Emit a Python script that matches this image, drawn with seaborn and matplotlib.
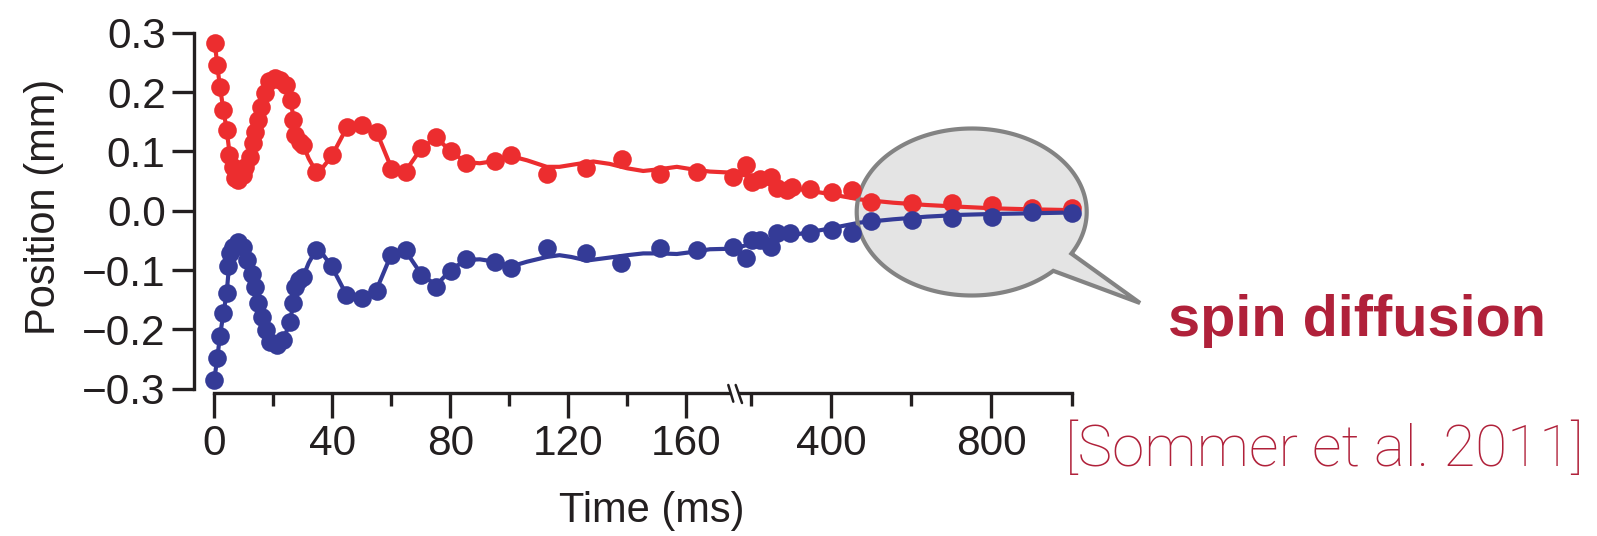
import numpy as np
import matplotlib
matplotlib.use("Agg")
import matplotlib.pyplot as plt
import seaborn as sns
from matplotlib.patches import Polygon
from matplotlib.lines import Line2D

# ---------------- data ----------------
red_t = [0.2, 1.0, 1.9, 3.1, 4.2, 5.1, 6.2, 7.0, 8.1, 9.8,
         10.5, 12.1, 13.0, 13.8, 14.9, 15.8, 17.2, 18.6, 20.6, 22.3,
         24.3, 25.9, 26.6, 27.4, 29.1, 30.2, 34.5, 39.8, 44.9, 50.0,
         55.0, 59.8, 65.0, 70.0, 75.2, 80.1, 85.3, 95.2, 100.6, 112.7,
         126.1, 138.1, 151.1, 163.5, 176, 188, 202, 223, 250, 265,
         290, 302, 349, 402, 452, 499, 601, 701, 801, 901, 1000]
red_v = [0.282, 0.246, 0.209, 0.170, 0.136, 0.094, 0.074, 0.055, 0.052, 0.060,
         0.073, 0.091, 0.114, 0.133, 0.153, 0.175, 0.198, 0.218, 0.223, 0.220,
         0.212, 0.187, 0.153, 0.128, 0.116, 0.111, 0.066, 0.094, 0.142, 0.145,
         0.133, 0.071, 0.066, 0.105, 0.125, 0.100, 0.081, 0.083, 0.094, 0.062,
         0.0715, 0.087, 0.062, 0.066, 0.057, 0.077, 0.049, 0.053, 0.057, 0.038,
         0.035, 0.040, 0.036, 0.032, 0.035, 0.015, 0.0135, 0.0125, 0.0096, 0.004, 0.004]

blue_t = [0, 1.0, 1.9, 3.1, 4.2, 4.7, 5.3, 6.4, 8.1, 9.8,
          11.0, 12.7, 13.8, 14.9, 16.1, 17.5, 18.9, 21.1, 23.4, 25.7,
          26.6, 27.4, 28.8, 30.2, 34.5, 39.8, 44.6, 50.0, 55.0, 59.8,
          65.0, 70.0, 75.2, 80.1, 85.3, 95.2, 100.6, 112.7, 126, 138,
          151, 163.5, 176, 188, 202, 223, 250, 265, 298, 349,
          402, 452, 499, 601, 701, 801, 901, 1000]
blue_v = [-0.285, -0.249, -0.212, -0.173, -0.139, -0.094, -0.072, -0.061, -0.052, -0.061,
          -0.083, -0.106, -0.128, -0.156, -0.179, -0.201, -0.221, -0.226, -0.218, -0.187,
          -0.156, -0.128, -0.117, -0.111, -0.066, -0.094, -0.142, -0.148, -0.135, -0.075,
          -0.067, -0.108, -0.128, -0.101, -0.082, -0.086, -0.097, -0.063, -0.072, -0.088,
          -0.063, -0.067, -0.061, -0.079, -0.049, -0.050, -0.061, -0.038, -0.038, -0.038,
          -0.033, -0.037, -0.017, -0.016, -0.013, -0.010, -0.003, -0.004]

red_fit_t = [0.2, 1.0, 1.9, 3.1, 4.2, 5.1, 6.2, 7.5, 9.0, 10.5, 12.1, 13.8, 15.8, 17.2,
             18.6, 20.6, 22.3, 24.3, 25.9, 27.4, 29.1, 30.2, 32.0, 34.5, 36.0, 39.8,
             44.9, 50.0, 55.0, 59.8, 63.0, 65.0, 70.0, 75.2, 80.1, 85.3, 90.0, 95.2,
             100.6, 106, 112.7, 117, 122, 128.5, 134, 140, 145.4, 151, 156.8, 163, 168,
             176, 223, 306, 389, 472, 555, 639, 722, 805, 888, 1000]
red_fit_v = [0.282, 0.246, 0.209, 0.170, 0.136, 0.100, 0.075, 0.058, 0.058, 0.073, 0.093,
             0.130, 0.172, 0.196, 0.214, 0.222, 0.220, 0.210, 0.188, 0.135, 0.118, 0.110,
             0.088, 0.066, 0.068, 0.092, 0.140, 0.145, 0.133, 0.075, 0.066, 0.068, 0.104,
             0.124, 0.100, 0.082, 0.080, 0.084, 0.092, 0.085, 0.074, 0.074, 0.078, 0.083,
             0.079, 0.0715, 0.067, 0.070, 0.074, 0.069, 0.066, 0.064, 0.054, 0.038, 0.029,
             0.019, 0.0135, 0.0096, 0.0067, 0.004, 0.0025, 0.001]

blue_fit_t = [0, 1.0, 1.9, 3.1, 4.2, 4.7, 5.3, 6.4, 8.1, 9.8, 11.0, 12.7, 13.8, 14.9,
              16.1, 17.5, 18.9, 21.1, 23.4, 25.7, 26.6, 27.4, 28.8, 30.2, 32.0, 34.5,
              36.0, 39.8, 44.6, 50.0, 55.0, 59.8, 63.0, 65.0, 70.0, 75.2, 80.1, 85.3,
              90.0, 95.2, 100.6, 106, 112.7, 117, 121, 126.3, 134, 140, 145.4, 151,
              156.8, 163, 168, 176, 223, 306, 389, 472, 555, 639, 722, 805, 888, 1000]
blue_fit_v = [-0.285, -0.249, -0.212, -0.173, -0.139, -0.110, -0.085, -0.062, -0.053,
              -0.061, -0.083, -0.106, -0.128, -0.156, -0.179, -0.201, -0.219, -0.226,
              -0.218, -0.187, -0.160, -0.130, -0.117, -0.110, -0.088, -0.066, -0.068,
              -0.094, -0.140, -0.146, -0.133, -0.076, -0.068, -0.069, -0.106, -0.126,
              -0.100, -0.083, -0.082, -0.086, -0.094, -0.086, -0.078, -0.075, -0.078,
              -0.084, -0.079, -0.075, -0.072, -0.072, -0.073, -0.069, -0.065, -0.064,
              -0.052, -0.041, -0.031, -0.020, -0.0145, -0.010, -0.007, -0.0055,
              -0.0045, -0.003]

xticks_major = [0, 40, 80, 120, 160, 400, 800]
xtick_labels = ["0", "40", "80", "120", "160", "400", "800"]
xticks_minor = [20, 60, 100, 140, 200, 600, 1000]
yticks = [-0.3, -0.2, -0.1, 0.0, 0.1, 0.2, 0.3]
ytick_labels = ["\u22120.3", "\u22120.2", "\u22120.1", "0.0", "0.1", "0.2", "0.3"]

RED = "#EC2D2F"
BLUE = "#343B97"
TXT_RED = "#B0213A"
INK = "#231F20"

# ---------------- broken time axis as a function scale ----------------
BREAK = 176.0
S_LEFT = 2.95       # px per ms before the break
S_RIGHT = 0.40125   # px per ms after the break
GAP = 7.6


def fwd(t):
    t = np.asarray(t, dtype=float)
    return np.where(t <= BREAK, t * S_LEFT,
                    BREAK * S_LEFT + GAP + (t - BREAK) * S_RIGHT)


def inv(u):
    u = np.asarray(u, dtype=float)
    b = BREAK * S_LEFT
    return np.where(u <= b, u / S_LEFT,
                    np.where(u < b + GAP, BREAK, BREAK + (u - b - GAP) / S_RIGHT))


W, H = 1597, 536
sns.set_theme(style="ticks")
plt.rcParams["font.family"] = ["Liberation Sans", "DejaVu Sans"]

fig = plt.figure(figsize=(W / 100, H / 100), dpi=100)
fig.patch.set_facecolor("white")
ax = fig.add_axes([193.5 / W, 1 - 393 / H, (1071.7 - 193.5) / W, (393 - 20) / H])
ax.set_facecolor("white")
ax.set_xscale("function", functions=(fwd, inv))


def P(x, y):
    return (x / W, 1 - y / H)


# speech bubble (fill below data, outline above lines)
cx, cy, a, b = 971.7, 212.0, 115.0, 83.5
th1 = np.deg2rad(29.9)
th2 = np.deg2rad(44.8)
ths = np.linspace(th2, th1 + 2 * np.pi, 200)
pts = [P(cx + a * np.cos(t), cy + b * np.sin(t)) for t in ths]
pts.append(P(1140, 303))
ax.add_patch(Polygon(pts, closed=True, transform=fig.transFigure, clip_on=False,
                     facecolor="#E4E4E4", edgecolor="none", zorder=1))
ax.add_patch(Polygon(pts, closed=True, transform=fig.transFigure, clip_on=False,
                     facecolor="none", edgecolor="#838383", linewidth=3.0,
                     joinstyle="miter", zorder=3.5))

# fit lines
sns.lineplot(x=red_fit_t, y=red_fit_v, color=RED, linewidth=3.0, sort=False,
             estimator=None, ax=ax, zorder=3, clip_on=False)
sns.lineplot(x=blue_fit_t, y=blue_fit_v, color=BLUE, linewidth=3.0, sort=False,
             estimator=None, ax=ax, zorder=3, clip_on=False)
# data points
sns.scatterplot(x=red_t, y=red_v, color=RED, s=180, linewidth=0, ax=ax,
                zorder=4, clip_on=False)
sns.scatterplot(x=blue_t, y=blue_v, color=BLUE, s=180, linewidth=0, ax=ax,
                zorder=4, clip_on=False)

ax.set_xlim(-7.05, 1000)
ax.set_ylim(-0.3074, 0.3216)

ax.set_xticks(xticks_major)
ax.set_xticklabels(xtick_labels)
ax.set_xticks(xticks_minor, minor=True)
ax.set_yticks(yticks)
ax.set_yticklabels(ytick_labels)

for s in ["top", "right"]:
    ax.spines[s].set_visible(False)
ax.spines["left"].set_bounds(-0.3, 0.3)
ax.spines["bottom"].set_bounds(0, 1000)
for s in ["left", "bottom"]:
    ax.spines[s].set_linewidth(2.4)
    ax.spines[s].set_color(INK)

ax.tick_params(axis="x", which="major", direction="out", length=18, width=2.4,
               pad=4, labelsize=30.5, color=INK, labelcolor=INK)
ax.tick_params(axis="x", which="minor", direction="out", length=9.5, width=2.4,
               color=INK)
ax.tick_params(axis="y", which="major", direction="out", length=16, width=2.4,
               pad=4, labelsize=30.5, color=INK, labelcolor=INK)

ax.set_xlabel("Time (ms)", fontsize=30, color=INK)
ax.xaxis.set_label_coords((652 - 193.5) / 878.2, -0.263)
ax.set_ylabel("Position (mm)", fontsize=30, color=INK)
ax.yaxis.set_label_coords((64 - 193.5) / 878.2, 0.5)

# axis break marks
ax.add_patch(Polygon([P(729.2, 388), P(736.7, 388), P(740.2, 398), P(732.2, 398)],
                     closed=True, transform=fig.transFigure, clip_on=False,
                     facecolor="white", edgecolor="none", zorder=5))
for (x0, y0, x1, y1) in [(728.3, 385, 733.3, 401.7), (735.7, 385, 742.0, 403)]:
    p0, p1 = P(x0, y0), P(x1, y1)
    ax.add_line(Line2D([p0[0], p1[0]], [p0[1], p1[1]], transform=fig.transFigure,
                       color=INK, linewidth=1.8, clip_on=False, zorder=6))

fig.text(1168 / W, 1 - 336 / H, "spin diffusion", fontsize=41.5, fontweight="bold",
         color=TXT_RED, ha="left", va="baseline")
fig.text(1065 / W, 1 - 466 / H, "[Sommer et al. 2011]", fontsize=42,
         family=["Roboto", "Liberation Sans", "DejaVu Sans"], fontweight="light",
         color=TXT_RED, ha="left", va="baseline")

fig.savefig("out.png", dpi=100, facecolor="white")
